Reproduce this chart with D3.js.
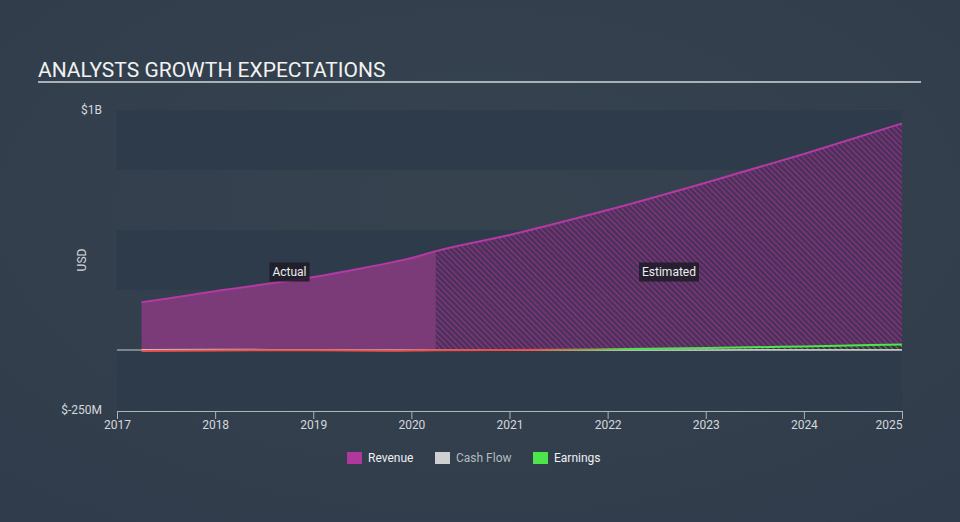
<!DOCTYPE html>
<html>
<head>
<meta charset="utf-8">
<script src="https://cdn.jsdelivr.net/npm/d3@7"></script>
<style>
  html, body { margin: 0; padding: 0; background: #333f4e; }
  svg { display: block; font-family: Roboto, "Noto Sans", sans-serif; }
</style>
</head>
<body>
<svg id="chart" width="960" height="522"></svg>
<script>
// ---- data (values in USD millions) ----
const revenueActualX = [2017.25, 2017.5, 2017.75, 2018, 2018.25, 2018.5, 2018.75, 2019, 2019.25, 2019.5, 2019.75, 2020, 2020.25];
const revenueActual  = [199, 214, 229, 245, 259, 274, 289, 304, 322, 341, 361, 383, 412];
const revenueEstX    = [2020.25, 2021, 2022, 2023, 2024, 2025];
const revenueEst     = [412, 479, 583, 697, 817, 944];

const earningsActualX = [2017.25, 2018, 2019, 2019.75, 2020.25];
const earningsActual  = [-4, -2, -1, -3, -1];
const earningsEstX    = [2020.25, 2021, 2022, 2023, 2024, 2025];
const earningsEst     = [-1, 0, 3, 8, 15, 23];

const cashFlowActualX = [2017.25, 2018, 2019, 2020.25];
const cashFlowActual  = [1, 2, 1, 0];
const cashFlowEstX    = [2020.25, 2021, 2022, 2023, 2024, 2025];
const cashFlowEst     = [0, 0, 0, 0.5, 1, 1];

const xTicks = [2017, 2018, 2019, 2020, 2021, 2022, 2023, 2024, 2025];
const yTickValues = [1000, -250];
const yTickLabels = ["$1B", "$-250M"];
const bandEdges = [1000, 750, 500, 250, 0, -250];
const legendNames = ["Revenue", "Cash Flow", "Earnings"];
const legendColors = ["#b0379d", "#d0d0d0", "#4ce54c"];

// ---- drawing ----
const svg = d3.select("#chart");
const x = d3.scaleLinear().domain([2017, 2025]).range([117, 902]);
const y = d3.scaleLinear().domain([-250, 1000]).range([410, 110]);

const defs = svg.append("defs");
const bgGrad = defs.append("radialGradient").attr("id", "bg").attr("cx", "50%").attr("cy", "40%").attr("r", "75%");
bgGrad.append("stop").attr("offset", "0%").attr("stop-color", "#36434f");
bgGrad.append("stop").attr("offset", "100%").attr("stop-color", "#303c4b");
svg.append("rect").attr("width", 960).attr("height", 522).attr("fill", "url(#bg)");

// hatch patterns
function hatch(id, color, bg, w) {
  const p = defs.append("pattern").attr("id", id).attr("patternUnits", "userSpaceOnUse")
    .attr("width", 4).attr("height", 4).attr("patternTransform", "rotate(-45)");
  p.append("rect").attr("width", 4).attr("height", 4).attr("fill", bg);
  p.append("line").attr("x1", 0).attr("y1", 0).attr("x2", 0).attr("y2", 4)
    .attr("stroke", color).attr("stroke-width", w);
}
hatch("revHatch", "#a0359a", "rgba(85,45,92,0.75)", 1.6);
hatch("earnHatch", "#3fbf45", "rgba(40,50,45,0.6)", 1.4);

// bands
for (let i = 0; i < bandEdges.length - 1; i++) {
  if (i % 2 === 0) {
    svg.append("rect").attr("x", x(2017)).attr("width", x(2025) - x(2017))
      .attr("y", y(bandEdges[i])).attr("height", y(bandEdges[i + 1]) - y(bandEdges[i]))
      .attr("fill", "#2e3b4a");
  }
}

// title
svg.append("text").attr("x", 38).attr("y", 77).attr("fill", "#f2f2f2")
  .attr("font-size", 21).text("ANALYSTS GROWTH EXPECTATIONS");
svg.append("line").attr("x1", 38).attr("x2", 921).attr("y1", 82).attr("y2", 82)
  .attr("stroke", "#a9b0b8").attr("stroke-width", 2);

// y labels
yTickValues.forEach((v, i) => {
  svg.append("text").attr("x", 102).attr("y", y(v)).attr("dy", "0.35em")
    .attr("text-anchor", "end").attr("fill", "#d5d8dc").attr("font-size", 12).text(yTickLabels[i]);
});
svg.append("text").attr("transform", `translate(86,${y(375)}) rotate(-90)`)
  .attr("text-anchor", "middle").attr("fill", "#d5d8dc").attr("font-size", 12).text("USD");

// zero line
svg.append("line").attr("x1", x(2017)).attr("x2", x(2025)).attr("y1", y(0)).attr("y2", y(0))
  .attr("stroke", "#c8ccd0").attr("stroke-width", 1.2);

const zip = (xs, vs) => xs.map((d, i) => [d, vs[i]]);
const curve = d3.curveMonotoneX;
const area = d3.area().x(d => x(d[0])).y0(y(0)).y1(d => y(d[1])).curve(curve);
const line = d3.line().x(d => x(d[0])).y(d => y(d[1])).curve(curve);

// revenue
const revA = zip(revenueActualX, revenueActual);
const revE = zip(revenueEstX, revenueEst);
svg.append("path").attr("d", area(revA)).attr("fill", "#7b3a78");
svg.append("path").attr("d", area(revE)).attr("fill", "url(#revHatch)");
svg.append("path").attr("d", line(revA.concat(revE.slice(1)))).attr("fill", "none")
  .attr("stroke", "#b43aa3").attr("stroke-width", 2);

// earnings hatch area between cash flow and earnings (estimated)
const cfE = zip(cashFlowEstX, cashFlowEst);
const eaE = zip(earningsEstX, earningsEst);
const earnArea = d3.area().x(d => x(d[0])).y0(d => y(d[2])).y1(d => y(d[1])).curve(curve);
svg.append("path").attr("d", earnArea(eaE.map((d, i) => [d[0], Math.max(d[1], cfE[i][1]), cfE[i][1]])))
  .attr("fill", "url(#earnHatch)");

// cash flow
const cfA = zip(cashFlowActualX, cashFlowActual);
svg.append("path").attr("d", line(cfA.concat(cfE.slice(1)))).attr("fill", "none")
  .attr("stroke", "#d8d8d8").attr("stroke-width", 1.5).attr("opacity", 0.85);

// earnings line with red->green gradient
const eg = defs.append("linearGradient").attr("id", "earnGrad").attr("gradientUnits", "userSpaceOnUse")
  .attr("x1", x(2017)).attr("x2", x(2025)).attr("y1", 0).attr("y2", 0);
eg.append("stop").attr("offset", (x(2021.2) - x(2017)) / (x(2025) - x(2017))).attr("stop-color", "#e8514a");
eg.append("stop").attr("offset", (x(2022.3) - x(2017)) / (x(2025) - x(2017))).attr("stop-color", "#4ce54c");
const eaA = zip(earningsActualX, earningsActual);
svg.append("path").attr("d", line(eaA.concat(eaE.slice(1)))).attr("fill", "none")
  .attr("stroke", "url(#earnGrad)").attr("stroke-width", 2);

// x axis
const axis = svg.append("g").attr("transform", `translate(0,${y(-250) + 1})`)
  .call(d3.axisBottom(x).tickValues(xTicks).tickFormat(d3.format("d")).tickSize(8).tickSizeOuter(8));
axis.select(".domain").attr("stroke", "#aab2ba");
axis.selectAll(".tick line").attr("stroke", "#aab2ba");
axis.selectAll(".tick text").attr("fill", "#d5d8dc").attr("font-size", 12)
  .attr("font-family", "Roboto, sans-serif").attr("y", 9).attr("dy", "0.71em")
  .attr("text-anchor", d => d === 2025 ? "end" : "middle");

// Actual / Estimated labels
function tag(cx, cy, txt) {
  const g = svg.append("g");
  const t = g.append("text").attr("x", cx).attr("y", cy).attr("dy", "0.35em").attr("text-anchor", "middle")
    .attr("fill", "#eeeeee").attr("font-size", 12).text(txt);
  const b = t.node().getBBox();
  g.insert("rect", "text").attr("x", b.x - 3).attr("y", cy - 9.5).attr("width", b.width + 6).attr("height", 19)
    .attr("fill", "#1f1d28").attr("opacity", 0.88);
}
tag(289.5, 272, "Actual");
tag(669, 272, "Estimated");

// legend
const legendX = [347, 435, 533];
legendNames.forEach((n, i) => {
  svg.append("rect").attr("x", legendX[i]).attr("y", 452).attr("width", 15).attr("height", 12)
    .attr("fill", legendColors[i]);
  svg.append("text").attr("x", legendX[i] + 21).attr("y", 458).attr("dy", "0.35em")
    .attr("fill", i === 1 ? "#b4bac0" : "#eef0f2").attr("font-size", 12).text(n);
});
</script>
</body>
</html>
